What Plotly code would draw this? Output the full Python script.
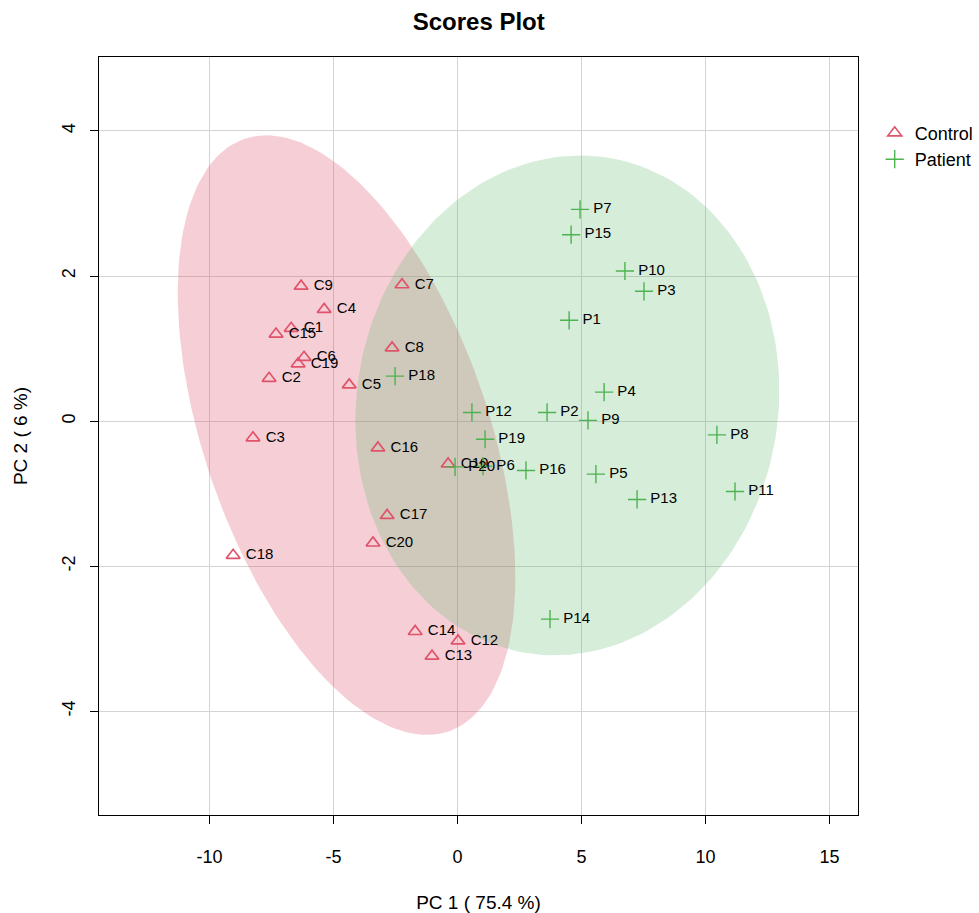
import numpy as np
import plotly.graph_objects as go

# PCA scores: Control group
control_labels = ["C1", "C2", "C3", "C4", "C5", "C6", "C7", "C8", "C9", "C10",
                  "C12", "C13", "C14", "C15", "C16", "C17", "C18", "C19", "C20"]
control_pc1 = [-6.71, -7.60, -8.25, -5.38, -4.37, -6.19, -2.24, -2.64, -6.31, -0.38,
               0.02, -1.03, -1.71, -7.32, -3.21, -2.84, -9.05, -6.43, -3.41]
control_pc2 = [1.28, 0.59, -0.23, 1.54, 0.50, 0.88, 1.88, 1.01, 1.86, -0.59,
               -3.03, -3.24, -2.90, 1.20, -0.37, -1.30, -1.85, 0.79, -1.68]

# PCA scores: Patient group
patient_labels = ["P1", "P2", "P3", "P4", "P5", "P6", "P7", "P8", "P9", "P10",
                  "P11", "P12", "P13", "P14", "P15", "P16", "P18", "P19", "P20"]
patient_pc1 = [4.50, 3.61, 7.52, 5.91, 5.58, 1.03, 4.94, 10.46, 5.26, 6.75,
               11.19, 0.58, 7.24, 3.73, 4.58, 2.76, -2.52, 1.11, -0.10]
patient_pc2 = [1.39, 0.12, 1.79, 0.40, -0.73, -0.62, 2.92, -0.19, 0.01, 2.07,
               -0.97, 0.12, -1.08, -2.73, 2.57, -0.68, 0.62, -0.25, -0.63]

x_ticks = [-10, -5, 0, 5, 10, 15]
x_tick_text = ["-10", "-5", "0", "5", "10", "15"]
y_ticks = [-4, -2, 0, 2, 4]
y_tick_text = ["-4", "-2", "0", "2", "4"]

RED = "#DF536B"
GREEN = "#4DB34F"
FONT = "Liberation Sans, Arial, sans-serif"


def conf_ellipse(x, y, level_t=np.sqrt(5.991464547), n=200):
    """95% confidence ellipse from the sample covariance (chi-square, 2 df)."""
    x = np.asarray(x)
    y = np.asarray(y)
    cov = np.cov(x, y)
    vals, vecs = np.linalg.eigh(cov)
    theta = np.linspace(0, 2 * np.pi, n)
    circle = np.vstack([np.cos(theta), np.sin(theta)])
    pts = vecs @ (np.sqrt(vals)[:, None] * circle) * level_t
    return pts[0] + x.mean(), pts[1] + y.mean()


fig = go.Figure()

ex, ey = conf_ellipse(control_pc1, control_pc2)
fig.add_trace(go.Scatter(x=ex, y=ey, mode="lines", fill="toself",
                         fillcolor="rgba(223,83,107,0.28)", line=dict(width=0),
                         hoverinfo="skip", showlegend=False))
ex, ey = conf_ellipse(patient_pc1, patient_pc2)
fig.add_trace(go.Scatter(x=ex, y=ey, mode="lines", fill="toself",
                         fillcolor="rgba(91,183,107,0.25)", line=dict(width=0),
                         hoverinfo="skip", showlegend=False))

fig.add_trace(go.Scatter(
    x=control_pc1, y=control_pc2, mode="markers+text", name="Control",
    text=[" " + s for s in control_labels], textposition="middle right",
    textfont=dict(family=FONT, size=15, color="#000000"),
    marker=dict(symbol="triangle-up-open", size=12, color=RED,
                line=dict(width=1.7, color=RED)),
))
fig.add_trace(go.Scatter(
    x=patient_pc1, y=patient_pc2, mode="markers+text", name="Patient",
    text=[" " + s for s in patient_labels], textposition="middle right",
    textfont=dict(family=FONT, size=15, color="#000000"),
    marker=dict(symbol="cross-thin-open", size=13, color=GREEN,
                line=dict(width=1.4, color=GREEN)),
))

axis_common = dict(
    showgrid=True, gridcolor="#D3D3D3", gridwidth=1,
    zeroline=False, showline=True, linecolor="#000000", linewidth=1.2,
    mirror=True, ticks="outside", ticklen=8, tickcolor="#000000",
    tickfont=dict(family=FONT, size=18, color="#000000"),
)

fig.update_layout(
    width=979, height=913,
    margin=dict(l=99, r=121, t=57, b=98, autoexpand=False),
    paper_bgcolor="white", plot_bgcolor="white",
    title=dict(text="<b>Scores Plot</b>", x=0.489, xanchor="center",
               y=0.976, yanchor="middle",
               font=dict(family=FONT, size=24, color="#000000")),
    xaxis=dict(range=[-14.46, 16.15], tickvals=x_ticks, ticktext=x_tick_text,
               ticklabelstandoff=17,
               title=dict(text="PC 1 ( 75.4 %)", standoff=30,
                          font=dict(family=FONT, size=19, color="#000000")),
               **axis_common),
    yaxis=dict(range=[-5.43, 5.02], tickvals=y_ticks, ticktext=y_tick_text,
               tickangle=-90, ticklabelstandoff=8,
               title=dict(text="PC 2 ( 6 %)", standoff=26,
                          font=dict(family=FONT, size=19, color="#000000")),
               **axis_common),
    legend=dict(x=1.022, y=0.924, xanchor="left", yanchor="top",
                font=dict(family=FONT, size=18, color="#000000"),
                bgcolor="rgba(0,0,0,0)", itemwidth=30, tracegroupgap=0),
    showlegend=True,
)

fig.write_html("out.html")
